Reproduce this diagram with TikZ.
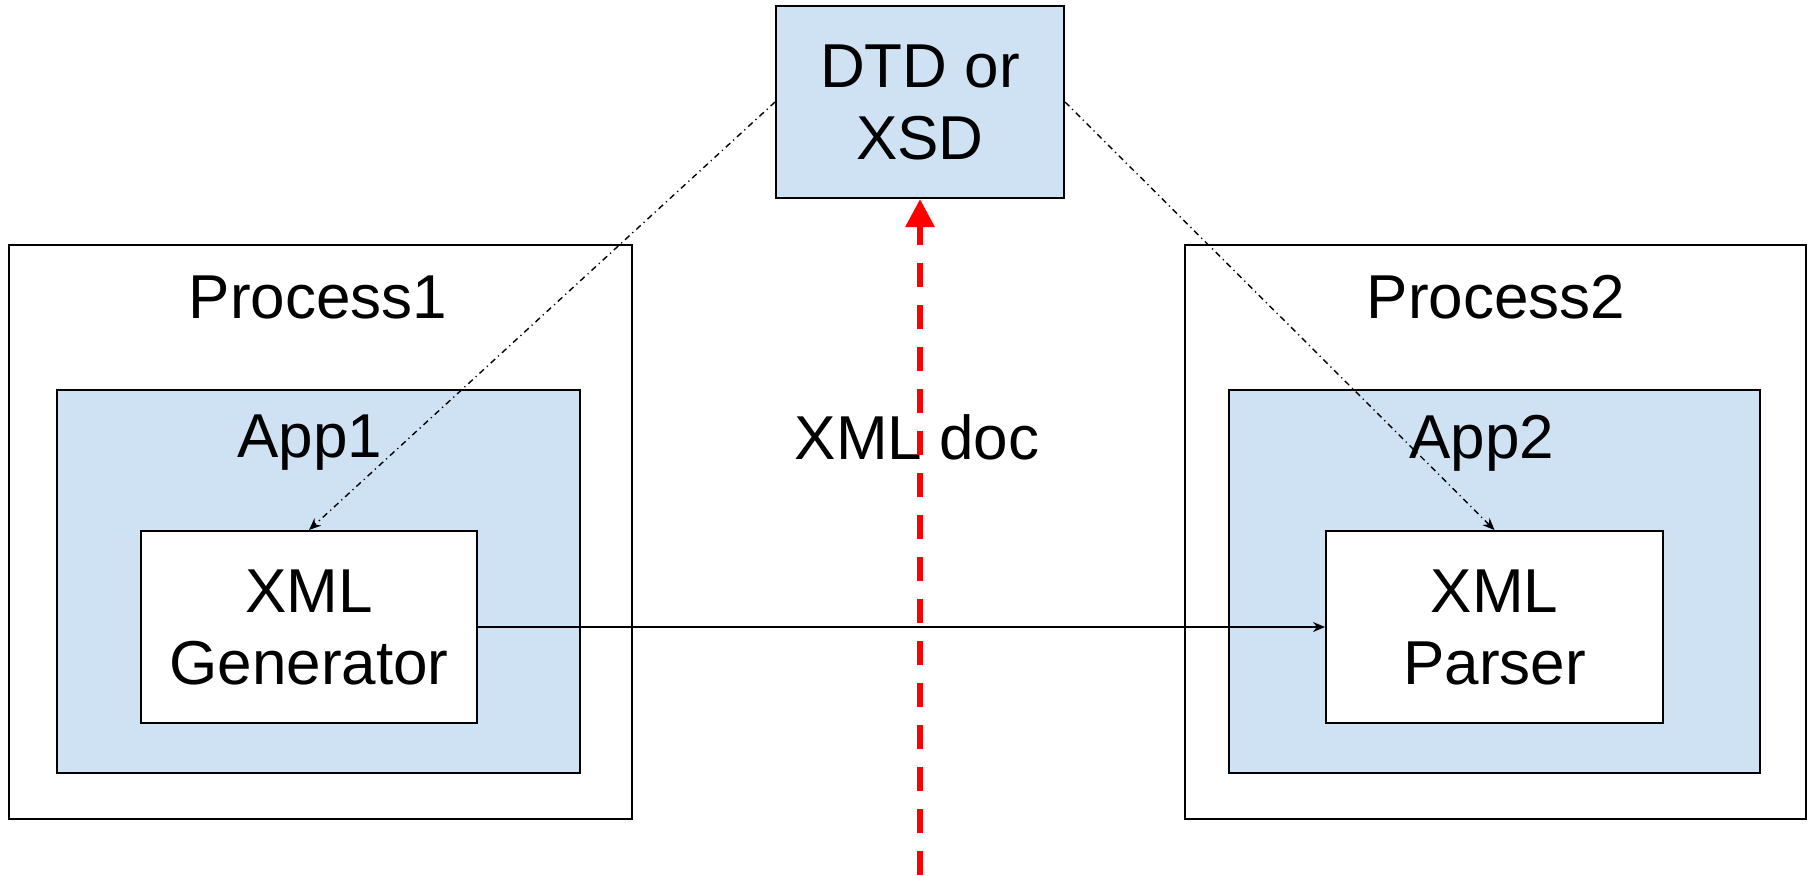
\documentclass[tikz,border=0pt]{standalone}
\usepackage{fontspec}
\setmainfont{Liberation Sans}
\usetikzlibrary{positioning}
\usetikzlibrary{arrows.meta}
\definecolor{appblue}{HTML}{CFE2F3}

\begin{document}
\begin{tikzpicture}
    [
    x=0.5pt, y=-0.5pt,
    every node/.style={font=\fontsize{31}{36}\selectfont, align=center},
    procbox/.style={draw, line width=1pt, fill=white, inner sep=0pt},
    appbox/.style={draw, line width=1pt, fill=appblue, inner sep=0pt},
    toolbox/.style={draw, line width=1pt, fill=white, inner sep=0pt},
    schema/.style={-{Stealth[length=6pt, width=5pt]}, line width=0.7pt,
        dash pattern=on 3pt off 2pt on 0.6pt off 2pt},
    flow/.style={-{Stealth[length=6pt, width=5pt]}, line width=0.7pt},
    transfer/.style={-{Triangle[length=14pt, width=14pt]}, red, line width=3pt,
        dash pattern=on 12pt off 9pt},
    ]

    \useasboundingbox (0,0) rectangle (1814,875);

    % sender side
    \node[procbox, minimum width=311.5pt, minimum height=287pt] (proc_one) at (320.5,532) {};
    \node at (318,297) (lbl_proc_one) {Process1};
    \node[appbox, minimum width=261.5pt, minimum height=191.5pt] (app_one) at (318.5,581.5) {};
    \node at (310,443) (lbl_app_one) {App1};
    \node[toolbox, minimum width=168pt, minimum height=96pt] (gen) at (309,627) {XML\\Generator};

    % receiver side
    \node[procbox, minimum width=310.5pt, minimum height=287pt] (proc_two) at (1495.5,532) {};
    \node at (1496,297) (lbl_proc_two) {Process2};
    \node[appbox, minimum width=265.5pt, minimum height=191.5pt] (app_two) at (1494.5,581.5) {};
    \node at (1482,443) (lbl_app_two) {App2};
    \node[toolbox, minimum width=168.5pt, minimum height=96pt] (parser) at (1494.5,627) {XML\\Parser};

    % schema
    \node[appbox, minimum width=144pt, minimum height=96pt] (schema_doc) at (920,102) {DTD or\\XSD};

    \coordinate (doc_start) at (920,875);
    \node at (917,437) (lbl_doc) {XML doc};

    \draw[transfer] (doc_start) -- (schema_doc.south);
    \draw[flow] (gen.east) -- (parser.west);
    \draw[schema] (schema_doc.west) -- (gen.north);
    \draw[schema] (schema_doc.east) -- (parser.north);
\end{tikzpicture}
\end{document}
